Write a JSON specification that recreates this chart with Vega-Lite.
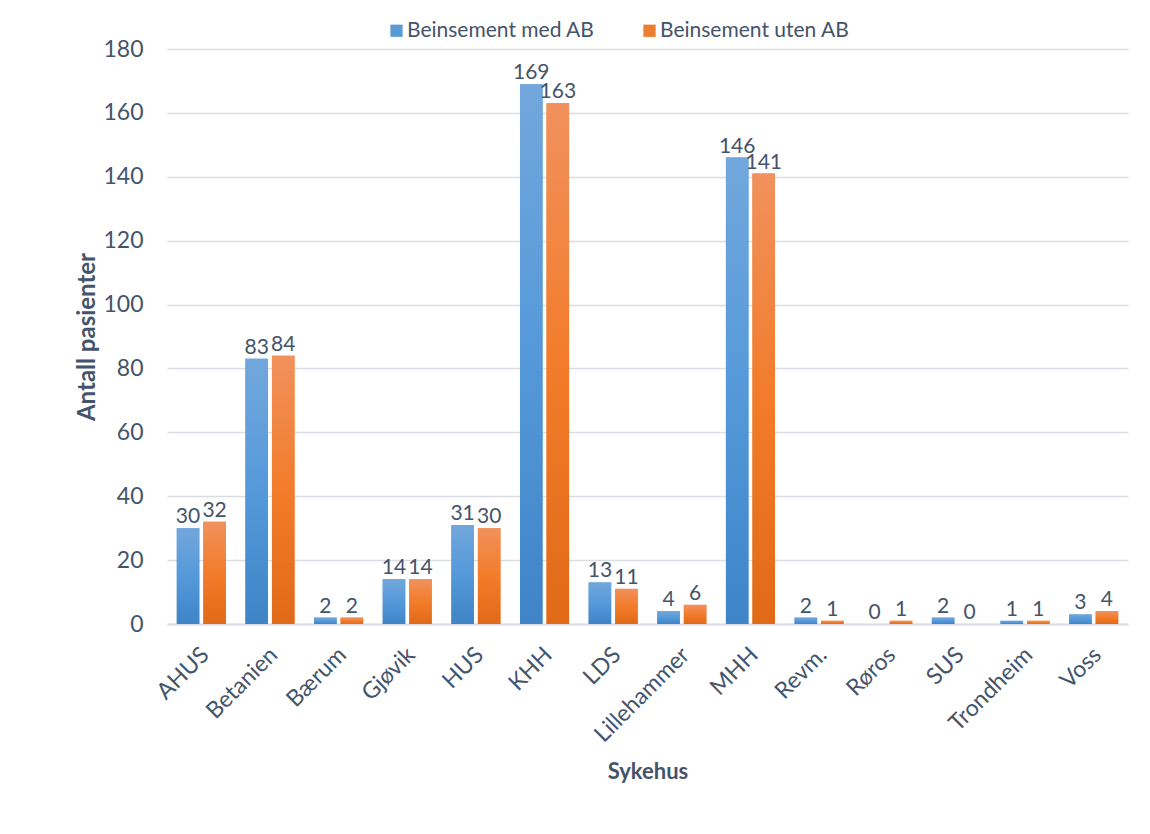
{
  "$schema": "https://vega.github.io/schema/vega-lite/v6.json",
  "width": 961,
  "height": 575,
  "autosize": {"type": "none"},
  "padding": {"left": 167, "top": 49, "right": 22, "bottom": 210},
  "background": "white",
  "config": {"font": "Lato", "view": {"stroke": null}},
  "data": {
    "values": [
      {"Sykehus": "AHUS", "Gruppe": "Beinsement med AB", "Antall": 30},
      {"Sykehus": "AHUS", "Gruppe": "Beinsement uten AB", "Antall": 32},
      {"Sykehus": "Betanien", "Gruppe": "Beinsement med AB", "Antall": 83},
      {"Sykehus": "Betanien", "Gruppe": "Beinsement uten AB", "Antall": 84},
      {"Sykehus": "Bærum", "Gruppe": "Beinsement med AB", "Antall": 2},
      {"Sykehus": "Bærum", "Gruppe": "Beinsement uten AB", "Antall": 2},
      {"Sykehus": "Gjøvik", "Gruppe": "Beinsement med AB", "Antall": 14},
      {"Sykehus": "Gjøvik", "Gruppe": "Beinsement uten AB", "Antall": 14},
      {"Sykehus": "HUS", "Gruppe": "Beinsement med AB", "Antall": 31},
      {"Sykehus": "HUS", "Gruppe": "Beinsement uten AB", "Antall": 30},
      {"Sykehus": "KHH", "Gruppe": "Beinsement med AB", "Antall": 169},
      {"Sykehus": "KHH", "Gruppe": "Beinsement uten AB", "Antall": 163},
      {"Sykehus": "LDS", "Gruppe": "Beinsement med AB", "Antall": 13},
      {"Sykehus": "LDS", "Gruppe": "Beinsement uten AB", "Antall": 11},
      {"Sykehus": "Lillehammer", "Gruppe": "Beinsement med AB", "Antall": 4},
      {"Sykehus": "Lillehammer", "Gruppe": "Beinsement uten AB", "Antall": 6},
      {"Sykehus": "MHH", "Gruppe": "Beinsement med AB", "Antall": 146},
      {"Sykehus": "MHH", "Gruppe": "Beinsement uten AB", "Antall": 141},
      {"Sykehus": "Revm.", "Gruppe": "Beinsement med AB", "Antall": 2},
      {"Sykehus": "Revm.", "Gruppe": "Beinsement uten AB", "Antall": 1},
      {"Sykehus": "Røros", "Gruppe": "Beinsement med AB", "Antall": 0},
      {"Sykehus": "Røros", "Gruppe": "Beinsement uten AB", "Antall": 1},
      {"Sykehus": "SUS", "Gruppe": "Beinsement med AB", "Antall": 2},
      {"Sykehus": "SUS", "Gruppe": "Beinsement uten AB", "Antall": 0},
      {"Sykehus": "Trondheim", "Gruppe": "Beinsement med AB", "Antall": 1},
      {"Sykehus": "Trondheim", "Gruppe": "Beinsement uten AB", "Antall": 1},
      {"Sykehus": "Voss", "Gruppe": "Beinsement med AB", "Antall": 3},
      {"Sykehus": "Voss", "Gruppe": "Beinsement uten AB", "Antall": 4}
    ]
  },
  "encoding": {
    "x": {
      "field": "Sykehus",
      "type": "nominal",
      "sort": null,
      "scale": {"paddingInner": 0.285, "paddingOuter": 0.1425},
      "axis": {
        "title": "Sykehus",
        "labelAngle": -45,
        "labelAlign": "right",
        "labelBaseline": "middle",
        "labelPadding": 27,
        "labelOffset": 4,
        "labelFontSize": 23,
        "labelColor": "#44546A",
        "labelLimit": 0,
        "ticks": false,
        "domain": true,
        "domainColor": "#D9DDE3",
        "domainWidth": 2,
        "titleFontSize": 22,
        "titleFontWeight": "bold",
        "titleColor": "#44546A",
        "titleBaseline": "alphabetic",
        "titleY": 154
      }
    },
    "xOffset": {
      "field": "Gruppe",
      "type": "nominal",
      "sort": ["Beinsement med AB", "Beinsement uten AB"],
      "scale": {"paddingInner": 0.15, "paddingOuter": 0}
    },
    "y": {
      "field": "Antall",
      "type": "quantitative",
      "scale": {"domain": [0, 180], "nice": false},
      "axis": {
        "title": "Antall pasienter",
        "values": [0, 20, 40, 60, 80, 100, 120, 140, 160, 180],
        "grid": true,
        "gridColor": "#D9DDE3",
        "gridWidth": 1.5,
        "domain": false,
        "ticks": false,
        "labelPadding": 24,
        "labelFontSize": 23,
        "labelColor": "#44546A",
        "titleFontSize": 24,
        "titleFontWeight": "bold",
        "titleColor": "#44546A",
        "titleBaseline": "middle",
        "titleX": -80
      }
    }
  },
  "layer": [
    {
      "mark": {"type": "bar"},
      "encoding": {
        "color": {
          "field": "Gruppe",
          "type": "nominal",
          "scale": {
            "domain": ["Beinsement med AB", "Beinsement uten AB"],
            "range": ["#5B9BD5", "#ED7D31"]
          },
          "legend": {
            "title": null,
            "orient": "none",
            "direction": "horizontal",
            "legendX": 219,
            "legendY": -29,
            "symbolType": "square",
            "symbolSize": 150,
            "symbolStrokeWidth": 0,
            "labelFontSize": 21,
            "labelLimit": 0,
            "labelColor": "#44546A",
            "labelOffset": 0,
            "columnPadding": 44
          }
        }
      }
    },
    {
      "mark": {"type": "bar"},
      "encoding": {
        "fill": {
          "condition": {
            "test": "datum.Gruppe === 'Beinsement med AB'",
            "value": {
              "gradient": "linear",
              "x1": 0, "y1": 0, "x2": 0, "y2": 1,
              "stops": [
                {"offset": 0, "color": "#72A7DC"},
                {"offset": 0.5, "color": "#5599DA"},
                {"offset": 1, "color": "#3E84C6"}
              ]
            }
          },
          "value": {
            "gradient": "linear",
            "x1": 0, "y1": 0, "x2": 0, "y2": 1,
            "stops": [
              {"offset": 0, "color": "#F1915D"},
              {"offset": 0.5, "color": "#F27C2A"},
              {"offset": 1, "color": "#E06A18"}
            ]
          }
        }
      }
    },
    {
      "mark": {"type": "text", "baseline": "alphabetic", "dy": -5, "fontSize": 21, "color": "#44546A"},
      "encoding": {"text": {"field": "Antall", "type": "quantitative"}}
    }
  ]
}
